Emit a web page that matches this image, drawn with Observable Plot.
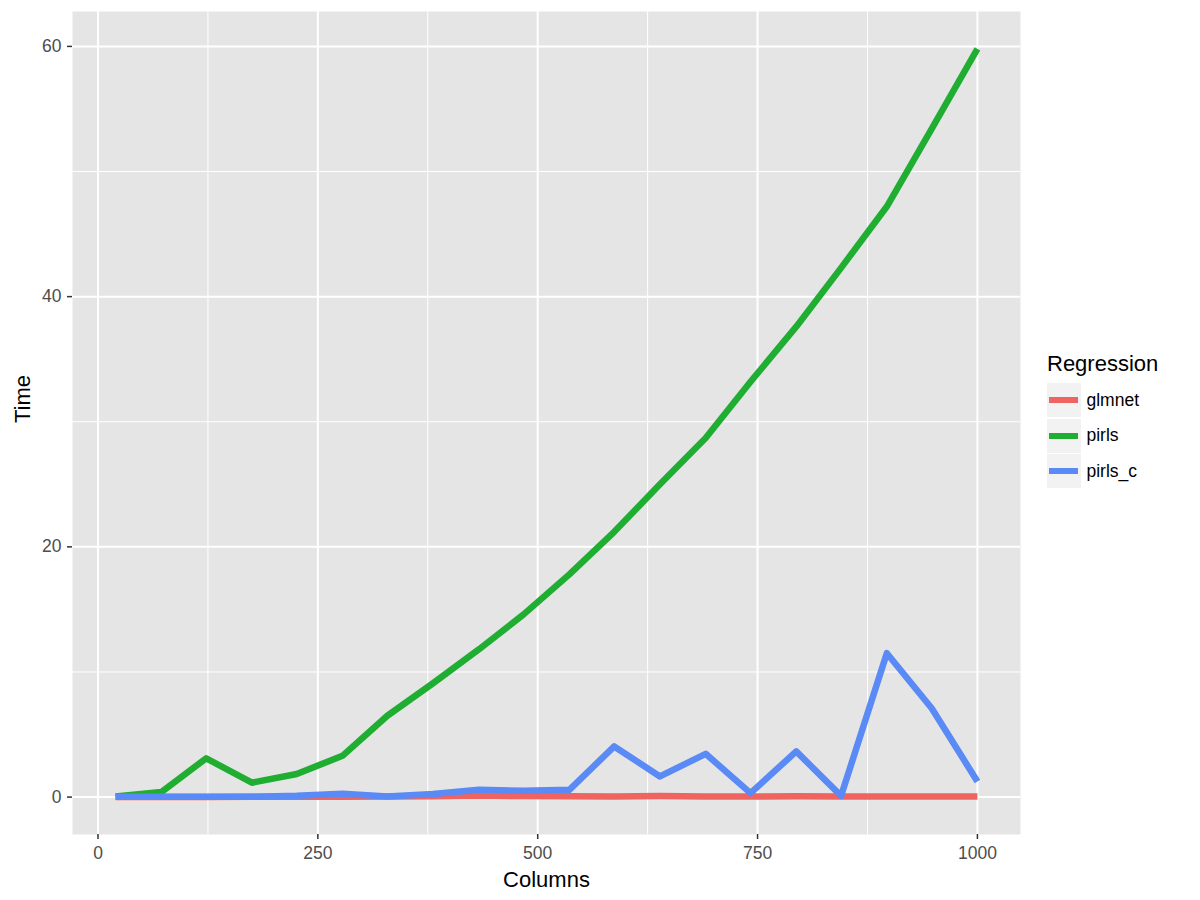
<!DOCTYPE html>
<html>
<head>
<meta charset="utf-8">
<script src="https://cdn.jsdelivr.net/npm/d3@7"></script>
<script src="https://cdn.jsdelivr.net/npm/@observablehq/plot@0.6"></script>
<style>
  html, body { margin: 0; padding: 0; background: #fff; }
  #wrap { position: relative; width: 1200px; height: 900px; font-family: "Liberation Sans", Arial, sans-serif; }
  #legend { position: absolute; left: 1047px; top: 349px; }
  #legend .title { font-size: 22px; color: #000; height: 34px; line-height: 30px; }
  #legend .row { display: flex; align-items: center; height: 34px; margin-bottom: 1.5px; }
  #legend .key { width: 34px; height: 34px; background: #F2F2F2; position: relative; }
  #legend .key span { position: absolute; left: 2px; right: 3px; top: 14px; height: 6px; }
  #legend .lab { font-size: 17.5px; color: #000; margin-left: 5.5px; }
</style>
</head>
<body>
<div id="wrap"><div id="chart"></div><div id="legend"></div></div>
<script>
// ---- data ----
const columns = [20, 72, 123, 175, 226, 278, 329, 381, 433, 484, 536, 587, 639, 691, 742, 794, 845, 897, 948, 1000];
const glmnet  = [0.01, 0.01, 0.01, 0.02, 0.02, 0.03, 0.04, 0.06, 0.12, 0.08, 0.06, 0.05, 0.08, 0.05, 0.05, 0.06, 0.05, 0.05, 0.05, 0.05];
const pirls   = [0.05, 0.4, 3.1, 1.15, 1.85, 3.3, 6.5, 9.1, 11.8, 14.6, 17.8, 21.2, 25.0, 28.7, 33.2, 37.6, 42.3, 47.2, 53.4, 59.8];
const pirls_c = [0.02, 0.02, 0.03, 0.03, 0.1, 0.27, 0.05, 0.25, 0.58, 0.5, 0.58, 4.05, 1.65, 3.46, 0.32, 3.65, 0.1, 11.5, 7.1, 1.25];
const seriesNames  = ["glmnet", "pirls", "pirls_c"];
const seriesColors = ["#EF6461", "#1FAE32", "#5A8AF6"];
const xTicks = [0, 250, 500, 750, 1000];
const xMinor = [125, 375, 625, 875];
const yTicks = [0, 20, 40, 60];
const yMinor = [10, 30, 50];

const values = {glmnet, pirls, pirls_c};
const rows = [];
seriesNames.forEach(s => columns.forEach((c, i) => rows.push({Columns: c, Time: values[s][i], Regression: s})));

const chart = Plot.plot({
  width: 1200,
  height: 900,
  marginLeft: 72,
  marginRight: 180,
  marginTop: 11,
  marginBottom: 66,
  style: {fontFamily: "'Liberation Sans', Arial, sans-serif", background: "transparent"},
  x: {domain: [-29, 1049]},
  y: {domain: [-2.99, 62.79]},
  color: {domain: seriesNames, range: seriesColors},
  marks: [
    Plot.frame({fill: "#E5E5E5", stroke: null}),
    Plot.gridX(xMinor, {stroke: "#fff", strokeOpacity: 1, strokeWidth: 1}),
    Plot.gridY(yMinor, {stroke: "#fff", strokeOpacity: 1, strokeWidth: 1}),
    Plot.gridX(xTicks, {stroke: "#fff", strokeOpacity: 1, strokeWidth: 2}),
    Plot.gridY(yTicks, {stroke: "#fff", strokeOpacity: 1, strokeWidth: 2}),
    Plot.axisX(xTicks, {label: null, tickFormat: d => String(d), tickSize: 5, tickPadding: 7.5, fontSize: 17.5, stroke: "#333", fill: "#4D4D4D", strokeWidth: 1.5}),
    Plot.axisY(yTicks, {label: null, tickFormat: d => String(d), tickSize: 5, tickPadding: 6, fontSize: 17.5, stroke: "#333", fill: "#4D4D4D", strokeWidth: 1.5}),
    Plot.line(rows, {x: "Columns", y: "Time", z: "Regression", stroke: "Regression", strokeWidth: 6.5, strokeLinejoin: "round", strokeLinecap: "butt"}),
    Plot.text(["Columns"], {frameAnchor: "bottom", dy: 45, fontSize: 22, fill: "#000", lineAnchor: "middle"}),
    Plot.text(["Time"], {frameAnchor: "left", dx: -50, rotate: -90, fontSize: 22, fill: "#000", lineAnchor: "middle"})
  ]
});
document.getElementById("chart").appendChild(chart);

// legend
const lg = document.getElementById("legend");
const t = document.createElement("div");
t.className = "title";
t.textContent = "Regression";
lg.appendChild(t);
seriesNames.forEach((s, i) => {
  const r = document.createElement("div");
  r.className = "row";
  const k = document.createElement("div");
  k.className = "key";
  const sp = document.createElement("span");
  sp.style.background = seriesColors[i];
  k.appendChild(sp);
  const l = document.createElement("div");
  l.className = "lab";
  l.textContent = s;
  r.appendChild(k);
  r.appendChild(l);
  lg.appendChild(r);
});
</script>
</body>
</html>
